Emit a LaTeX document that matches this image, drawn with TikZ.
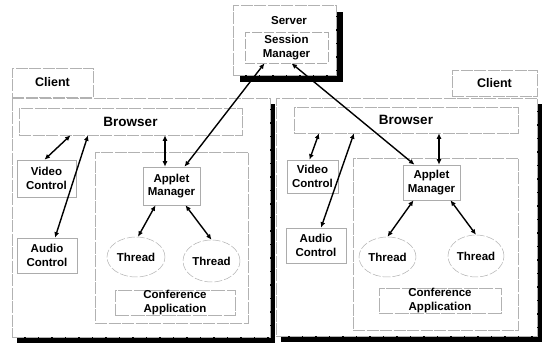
\documentclass[tikz,border=0pt]{standalone}
\usepackage{fontspec}
\setmainfont{Liberation Sans}
\usetikzlibrary{arrows.meta,shapes.geometric,backgrounds}
\begin{document}
\begin{tikzpicture}[x=1pt,y=-1pt,
 every node/.style={font=\bfseries\fontsize{11.5}{13.5}\selectfont, align=center, inner sep=0pt},
 sz/.style 2 args={minimum width=#1pt, minimum height=#2pt},
 bigbox/.style={rectangle, draw=gray!60, line width=0.6pt, dash pattern=on 12pt off 1.5pt, fill=white},
 smallbox/.style={rectangle, draw=gray!65, line width=0.6pt, fill=white},
 thr/.style={ellipse, draw=gray!60, line width=0.5pt, dash pattern=on 8pt off 2pt, fill=white},
 link/.style={line width=1.4pt, {Latex[length=5.5pt,width=5pt]}-{Latex[length=5.5pt,width=5pt]}},
 bigfont/.style={font=\bfseries\fontsize{13.5}{15}\selectfont},
 clientfont/.style={font=\bfseries\fontsize{12.5}{14}\selectfont}
]
\useasboundingbox (0,0) rectangle (542,350);

% ---------- Server ----------
\node[bigbox, sz={103}{70}] (srv) at (284.5,40) {};
\node (srvlbl) at (289,21) {Server};
\node[smallbox, dash pattern=on 10pt off 2pt, sz={83}{31}] (sm) at (286.5,47.5) {Session\\Manager};

% ---------- Left client ----------
\node[bigbox, sz={81}{29}] (lcl) at (52.5,82.5) {};
\node[clientfont] (lcltxt) at (lcl) {Client};
\node[bigbox, sz={258}{239}] (lbig) at (141,217.5) {};
\node[bigbox, bigfont, sz={223}{27}] (lb) at (130.5,121.5) {Browser};
\node[smallbox, sz={59}{37}] (lv) at (46.5,178.5) {Video\\Control};
\node[smallbox, sz={60}{35}] (la) at (47,255.5) {Audio\\Control};
\node[bigbox, sz={153}{171}] (lapp) at (171.5,237.5) {};
\node[smallbox, sz={57}{38}] (lam) at (171.5,186) {Applet\\Manager};
\node[thr, sz={58}{40}] (lt1) at (136,257) {Thread};
\node[thr, sz={57}{42}] (lt2) at (211.5,261) {Thread};
\node[bigbox, dash pattern=on 14pt off 1.5pt, sz={120}{25}] (lca) at (175,302.5) {Conference\\Application};

% ---------- Right client ----------
\node[bigbox, sz={85}{26}] (rcl) at (494.5,83) {};
\node[clientfont] (rcltxt) at (rcl) {Client};
\node[bigbox, sz={261}{238}] (rbig) at (406.5,217) {};
\node[bigbox, bigfont, sz={224}{26}] (rb) at (406,120) {Browser};
\node[smallbox, sz={51}{33}] (rv) at (312.5,176.5) {Video\\Control};
\node[smallbox, sz={60}{35}] (ra) at (316,245.5) {Audio\\Control};
\node[bigbox, sz={165}{172}] (rapp) at (435.5,244) {};
\node[smallbox, sz={57}{35}] (ram) at (431.5,182.5) {Applet\\Manager};
\node[thr, sz={57}{40}] (rt1) at (387.5,257) {Thread};
\node[thr, sz={56}{42}] (rt2) at (476,256) {Thread};
\node[bigbox, dash pattern=on 14pt off 1.5pt, sz={122}{25}] (rca) at (440,300.5) {Conference\\Application};

% ---------- Shadows ----------
\begin{scope}[on background layer]
\fill[black] ([shift={(7pt,-7pt)}]srv.south west) rectangle ([shift={(7pt,-7pt)}]srv.north east);
\fill[black] ([shift={(5pt,-6pt)}]lbig.south west) rectangle ([shift={(5pt,-6pt)}]lbig.north east);
\fill[black] ([shift={(5pt,-6pt)}]rbig.south west) rectangle ([shift={(5pt,-6pt)}]rbig.north east);
\end{scope}

% ---------- Connectors ----------
\draw[link] ([xshift=-60pt]lb.south) -- ([xshift=-2pt]lv.north);
\draw[link] ([xshift=8pt]la.north) -- ([xshift=-42.5pt]lb.south);
\draw[link] ([xshift=34.5pt]lb.south) -- ([xshift=-6.5pt]lam.north);
\draw[link] ([xshift=-22pt]sm.south) -- ([xshift=13pt]lam.north);
\draw[link] ([xshift=5pt]sm.south) -- ([xshift=-17pt]ram.north);
\draw[link] ([xshift=-16pt]lam.south) -- ([xshift=2pt]lt1.north);
\draw[link] ([xshift=14pt]lam.south) -- (lt2.north);

\draw[link] ([xshift=-87pt]rb.south) -- ([xshift=-3pt]rv.north);
\draw[link] ([xshift=5pt]ra.north) -- ([xshift=-52pt]rb.south);
\draw[link] ([xshift=33pt]rb.south) -- ([xshift=7.5pt]ram.north);
\draw[link] ([xshift=-18pt]ram.south) -- (rt1.north);
\draw[link] ([xshift=19pt]ram.south) -- (rt2.north);
\end{tikzpicture}
\end{document}
